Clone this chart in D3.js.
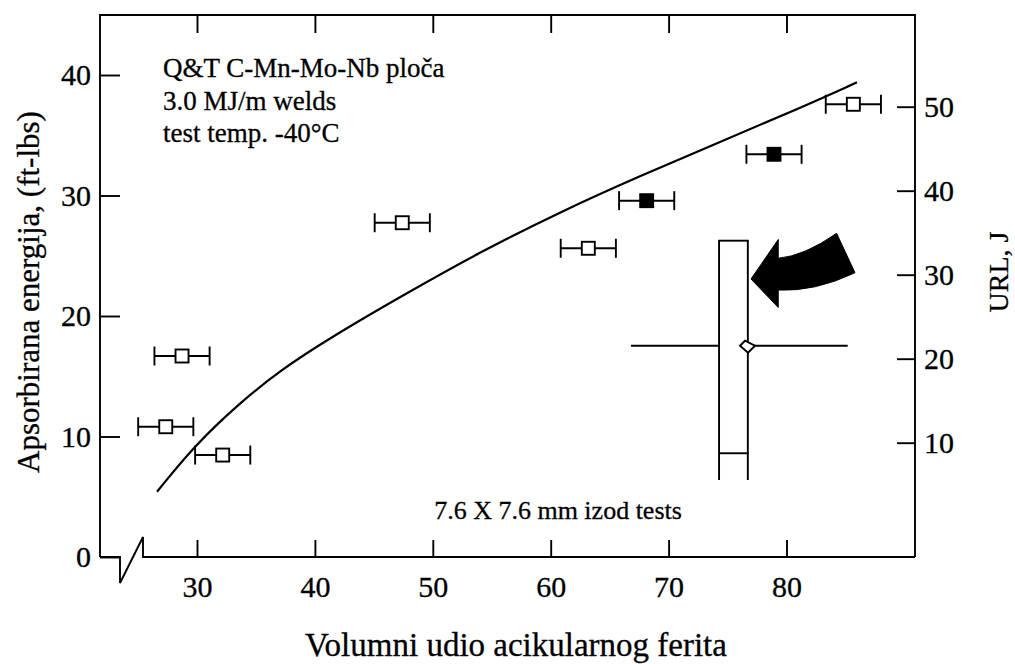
<!DOCTYPE html>
<html><head><meta charset="utf-8">
<script src="https://cdn.jsdelivr.net/npm/d3@7"></script>
<style>
html,body{margin:0;padding:0;background:#fff;}
svg{display:block;}
svg text{font-family:"Liberation Serif","DejaVu Serif","Noto Serif",serif !important;fill:#000;stroke:#000;stroke-width:0.3px;}
</style></head>
<body>
<svg id="chart" width="1015" height="664"></svg>
<script>
// ---- data ----
const xTicks = [30, 40, 50, 60, 70, 80];
const yTicksLeft = [0, 10, 20, 30, 40];
const yTicksRight = [10, 20, 30, 40, 50];

// measured points (volume fraction acicular ferrite, energy ft-lbs)
const pointX = [27.35, 28.73, 32.18, 47.41, 63.19, 68.14, 78.94, 85.67];
const pointY = [10.81, 16.68, 8.46, 27.74, 25.62, 29.57, 33.42, 37.57];
const pointErr = [2.34, 2.34, 2.34, 2.34, 2.34, 2.34, 2.34, 2.34];
const pointFilled = [false, false, false, false, false, true, true, false];

// fitted curve
const curveX = [26.61, 29.83, 33.65, 37.04, 41.28, 47.22, 54.0, 60.79, 67.57, 74.36, 81.14, 85.98];
const curveY = [5.42, 9.29, 12.8, 15.48, 18.18, 21.58, 25.31, 28.63, 31.62, 34.44, 37.26, 39.39];

// scatter-band glyph (box + range line + mean diamond)
const bandBoxX = [74.28, 76.72];
const bandBoxY = [26.25, 8.61, 6.39];   // top, inner line, whisker bottom
const bandRangeX = [66.81, 85.19];
const bandMean = [76.65, 17.53];

// curved arrow outline (data units)
const arrowPts = [[76.99, 23.07], [79.3, 26.35], [79.3, 24.79], [81.5, 24.98], [84.25, 26.86], [85.81, 23.59], [82.35, 21.99], [79.3, 22.16], [79.3, 20.71]];

const textLines = ["Q&T C-Mn-Mo-Nb ploča", "3.0 MJ/m welds", "test temp. -40°C"];
const noteText = "7.6 X 7.6 mm izod tests";
const xTitle = "Volumni udio acikularnog ferita";
const yTitle = "Apsorbirana energija, (ft-lbs)";
const yRTitle = "URL, J";

// ---- layout ----
const FONT = "'Liberation Serif','DejaVu Serif','Noto Serif',serif";
const L = 100, R = 915, T = 15, B = 557;
const SW = 1.9;
const svg = d3.select("#chart").attr("font-family", FONT);
const x = d3.scaleLinear().domain([30, 80]).range([197, 786.5]);
const y = d3.scaleLinear().domain([0, 40]).range([557, 75]);
const yR = d3.scaleLinear().domain([10, 50]).range([442.7, 106.7]);

const tickFont = 30;
const g = svg.append("g");

// frame
const frame = g.append("g").attr("fill", "none").attr("stroke", "#000").attr("stroke-width", SW);
frame.append("path").attr("d", `M${L},${B} V${T} H${R} V${B}`);
frame.append("path").attr("d", `M${L},${B} H${L + 20} V${B + 26} L${L + 43},${B - 20} V${B} H${R}`);

// axes
function styleAxis(sel) {
  sel.attr("font-family", FONT);
  sel.select(".domain").remove();
  sel.selectAll(".tick line").attr("stroke", "#000").attr("stroke-width", SW);
  sel.selectAll(".tick text").attr("font-size", tickFont).style("font-family", FONT);
}
g.append("g").attr("transform", `translate(0,${B})`)
  .call(d3.axisBottom(x).tickValues(xTicks).tickSize(-17).tickPadding(19).tickFormat(d3.format("d")))
  .call(styleAxis);
g.append("g").attr("transform", `translate(0,${T})`)
  .call(d3.axisTop(x).tickValues(xTicks).tickSize(-18).tickFormat(""))
  .call(styleAxis);
g.append("g").attr("transform", `translate(${L},0)`)
  .call(d3.axisLeft(y).tickValues(yTicksLeft).tickSize(-20).tickPadding(9).tickFormat(d3.format("d")))
  .call(styleAxis);
g.append("g").attr("transform", `translate(${R},0)`)
  .call(d3.axisRight(yR).tickValues(yTicksRight).tickSize(-18).tickPadding(9).tickFormat(d3.format("d")))
  .call(styleAxis);

// curve
const curveData = curveX.map((d, i) => [d, curveY[i]]);
g.append("path").datum(curveData)
  .attr("fill", "none").attr("stroke", "#000").attr("stroke-width", 2.2)
  .attr("d", d3.line().x(d => x(d[0])).y(d => y(d[1])).curve(d3.curveBasis));

// points with error bars
const pts = pointX.map((d, i) => ({x: d, y: pointY[i], e: pointErr[i], f: pointFilled[i]}));
const pg = g.append("g").attr("stroke", "#000").attr("stroke-width", SW)
  .selectAll("g").data(pts).join("g");
pg.append("line").attr("x1", d => x(d.x - d.e)).attr("x2", d => x(d.x + d.e))
  .attr("y1", d => y(d.y)).attr("y2", d => y(d.y));
pg.append("line").attr("x1", d => x(d.x - d.e)).attr("x2", d => x(d.x - d.e))
  .attr("y1", d => y(d.y) - 9.5).attr("y2", d => y(d.y) + 9.5);
pg.append("line").attr("x1", d => x(d.x + d.e)).attr("x2", d => x(d.x + d.e))
  .attr("y1", d => y(d.y) - 9.5).attr("y2", d => y(d.y) + 9.5);
pg.append("rect").attr("x", d => x(d.x) - 6.5).attr("y", d => y(d.y) - 6.5)
  .attr("width", 13).attr("height", 13)
  .attr("fill", d => d.f ? "#000" : "#fff");

// scatter band glyph
const bg = g.append("g").attr("stroke", "#000").attr("stroke-width", SW);
bg.append("line").attr("x1", x(bandRangeX[0])).attr("x2", x(bandRangeX[1]))
  .attr("y1", y(bandMean[1])).attr("y2", y(bandMean[1]));
bg.append("rect").attr("x", x(bandBoxX[0])).attr("y", y(bandBoxY[0]))
  .attr("width", x(bandBoxX[1]) - x(bandBoxX[0])).attr("height", y(bandBoxY[1]) - y(bandBoxY[0]))
  .attr("fill", "#fff");
bg.append("path").attr("fill", "none")
  .attr("d", `M${x(bandBoxX[0])},${y(bandBoxY[1])} V${y(bandBoxY[2])} M${x(bandBoxX[1])},${y(bandBoxY[1])} V${y(bandBoxY[2])}`);
const mx = x(bandMean[0]), my = y(bandMean[1]);
bg.append("path").attr("fill", "#fff")
  .attr("d", `M${mx - 7},${my} L${mx - 2},${my - 5} L${mx + 8},${my} L${mx + 1},${my + 7} Z`);

// arrow
const P = arrowPts.map(p => [x(p[0]), y(p[1])]);
g.append("path").attr("fill", "#000").attr("stroke", "#000").attr("stroke-width", 1)
  .attr("d", `M${P[0]} L${P[1]} L${P[2]} Q${P[3]} ${P[4]} L${P[5]} Q${P[6]} ${P[7]} L${P[8]} Z`);

// annotations
const ann = g.append("text").attr("font-size", 27).style("font-family", FONT);
textLines.forEach((t, i) => ann.append("tspan").attr("x", 163).attr("y", 77 + i * 32.5).text(t));
g.append("text").attr("x", 558).attr("y", 519).attr("text-anchor", "middle").attr("font-size", 26).style("font-family", FONT).text(noteText);

// titles
g.append("text").attr("x", 516).attr("y", 656).attr("text-anchor", "middle").attr("font-size", 33).style("font-family", FONT).text(xTitle);
g.append("text").attr("transform", "translate(39,292) rotate(-90)").attr("text-anchor", "middle").attr("font-size", 31).style("font-family", FONT).text(yTitle);
g.append("text").attr("transform", "translate(1008,272) rotate(-90)").attr("text-anchor", "middle").attr("font-size", 28).style("font-family", FONT).text(yRTitle);
</script>
</body></html>
